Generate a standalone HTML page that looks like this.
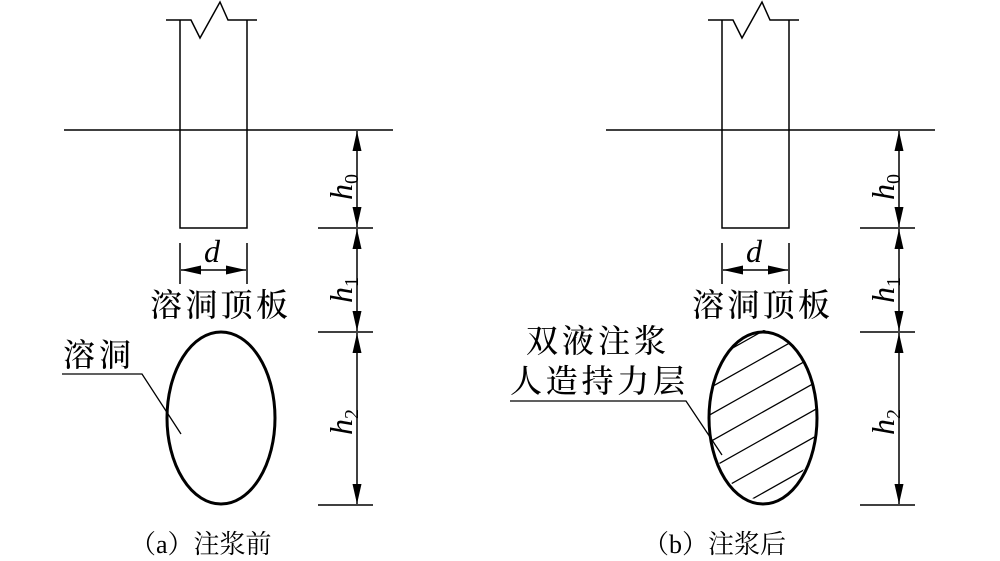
<!DOCTYPE html>
<html><head><meta charset="utf-8"><style>
html,body{margin:0;padding:0;background:#fff;}
svg{display:block;}
text{font-family:"Liberation Serif","Noto Serif CJK SC","Noto Sans CJK SC",serif;fill:#000;}
</style></head><body>
<svg width="1000" height="561" viewBox="0 0 1000 561" xmlns="http://www.w3.org/2000/svg">
<defs>
<marker id="ar" viewBox="0 0 10 10" refX="10" refY="5" markerWidth="20" markerHeight="9" preserveAspectRatio="none" markerUnits="userSpaceOnUse" orient="auto-start-reverse"><path d="M0,0L10,5L0,10z" fill="#000"/></marker>
<clipPath id="cl"><ellipse cx="763" cy="415" rx="53" ry="85"/></clipPath>
</defs>
<g id="panel" stroke="#000" fill="none" stroke-width="1.5">
<path d="M166,20H191L200,38L220,2L228,20H257"/>
<path d="M180,20V228H247V20"/>
<path d="M64,130H393"/>
<path d="M318,228H373M318,332H373M318,505H373"/>
<path d="M357,131V227" marker-start="url(#ar)" marker-end="url(#ar)"/>
<path d="M357,229V331" marker-start="url(#ar)" marker-end="url(#ar)"/>
<path d="M357,333V504" marker-start="url(#ar)" marker-end="url(#ar)"/>
<path d="M180,243V284M247,243V284"/>
<path d="M181,270H246" marker-start="url(#ar)" marker-end="url(#ar)"/>
</g>
<use href="#panel" x="542"/>
<ellipse cx="221" cy="418" rx="54" ry="86" fill="none" stroke="#000" stroke-width="3"/>
<path d="M62,374H142L181,434" fill="none" stroke="#000" stroke-width="1.3"/>
<g clip-path="url(#cl)" stroke="#000" stroke-width="1.3">
<path d="M690,345L850,255M690,372L850,282M690,399L850,309M690,426L850,336M690,453L850,363M690,480L850,390M690,507L850,417M690,534L850,444M690,561L850,471M690,588L850,498"/>
</g>
<ellipse cx="763" cy="418" rx="54" ry="86" fill="none" stroke="#000" stroke-width="3"/>
<path d="M510,401H686L722,455" fill="none" stroke="#000" stroke-width="1.3"/>
<g font-style="italic" font-size="32">
<text x="204" y="262">d</text>
<text x="746" y="262">d</text>
<text transform="translate(352,200) rotate(-90)">h<tspan font-size="20" font-style="normal" dy="6">0</tspan></text>
<text transform="translate(352,303) rotate(-90)">h<tspan font-size="20" font-style="normal" dy="6">1</tspan></text>
<text transform="translate(352,435) rotate(-90)">h<tspan font-size="20" font-style="normal" dy="6">2</tspan></text>
<text transform="translate(894,200) rotate(-90)">h<tspan font-size="20" font-style="normal" dy="6">0</tspan></text>
<text transform="translate(894,303) rotate(-90)">h<tspan font-size="20" font-style="normal" dy="6">1</tspan></text>
<text transform="translate(894,435) rotate(-90)">h<tspan font-size="20" font-style="normal" dy="6">2</tspan></text>
</g>
<g font-size="32" style="font-family:'Noto Sans CJK SC',sans-serif" font-weight="500">
<text x="150" y="316" textLength="138">溶洞顶板</text>
<text x="692" y="316" textLength="138">溶洞顶板</text>
<text x="63" y="366" textLength="68">溶洞</text>
<text x="526" y="352" textLength="140">双液注浆</text>
<text x="510" y="392" textLength="175">人造持力层</text>
</g>
<g font-size="26" style="font-family:'Noto Serif CJK SC',serif">
<text x="130" y="553">（a）注浆前</text>
<text x="643" y="553">（b）注浆后</text>
</g>
</svg>
</body></html>
